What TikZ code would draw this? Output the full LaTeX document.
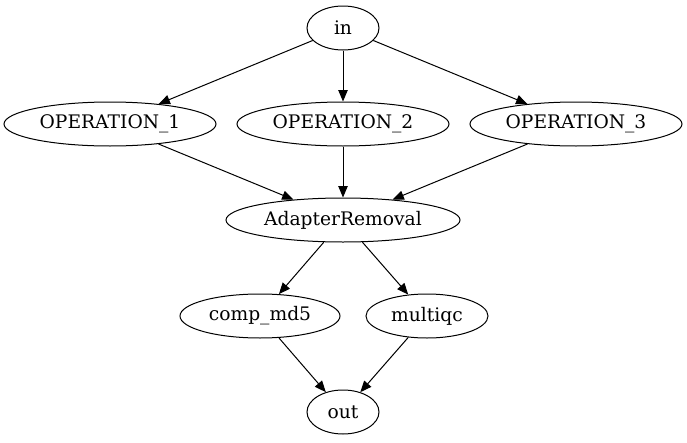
\documentclass[tikz,border=0pt]{standalone}
\usepackage{fontspec}
\setmainfont{DejaVu Serif}
\usetikzlibrary{arrows.meta,shapes.geometric}

\tikzset{
  task/.style={draw, ellipse, line width=0.75pt, inner sep=0pt,
    minimum height=33pt, minimum width=#1, font=\fontsize{14}{16}\selectfont},
  flow/.style={-{Triangle[length=8.5pt, width=7pt]}, line width=0.75pt}
}

\begin{document}
\begin{tikzpicture}[x=0.75pt, y=-0.75pt]
\useasboundingbox (0,0) rectangle (687,443);

% Nodes
\node[task=54pt] (in) at (343,28) {in};
\node[task=159pt] (op1) at (110,124) {OPERATION\_1};
\node[task=159pt] (op2) at (343,124) {OPERATION\_2};
\node[task=159pt] (op3) at (576,124) {OPERATION\_3};
\node[task=175.5pt] (adapter) at (343,220) {AdapterRemoval};
\node[task=120pt] (md5) at (260,316) {comp\_md5};
\node[task=91.5pt] (multiqc) at (427,316) {multiqc};
\node[task=54pt] (out) at (343,412) {out};

% Edges
\foreach \op in {op1,op2,op3} {
  \draw[flow] (in) -- (\op);
  \draw[flow] (\op) -- (adapter);
}
\draw[flow] (adapter) -- (md5);
\draw[flow] (adapter) -- (multiqc);
\draw[flow] (md5) -- (out);
\draw[flow] (multiqc) -- (out);

\end{tikzpicture}
\end{document}
